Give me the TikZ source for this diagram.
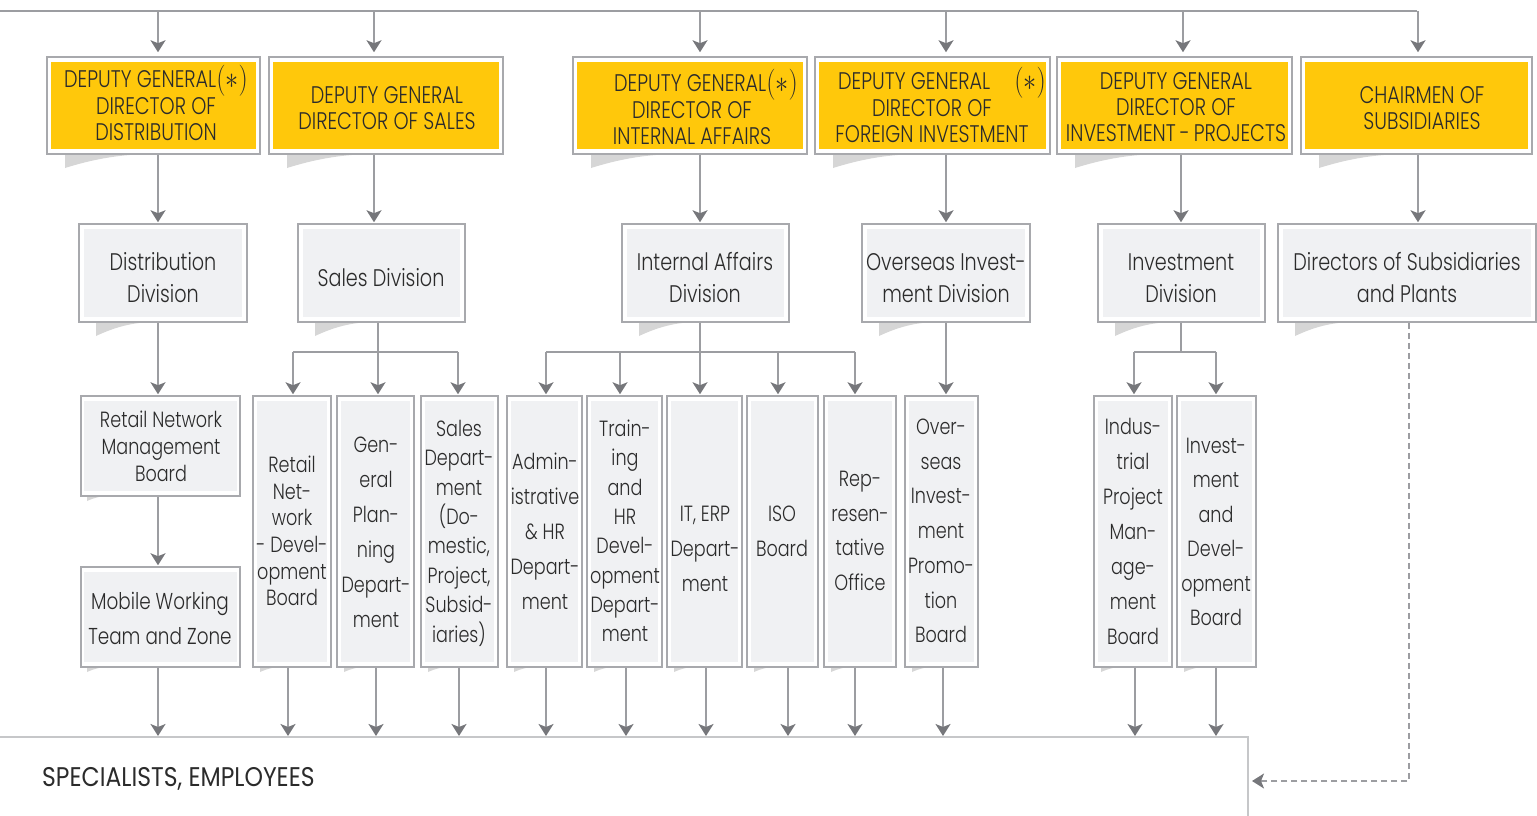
\documentclass[tikz,border=0pt]{standalone}
\usepackage{fontspec}
\newfontfamily\lightf{Poppins Light}[FakeStretch=0.8]
\newfontfamily\regf{Poppins}[FakeStretch=0.87]
\usetikzlibrary{arrows.meta,fit,calc}
\definecolor{ylw}{HTML}{FFC80B}
\definecolor{pale}{HTML}{F0F1F3}
\definecolor{brd}{HTML}{A8A9AD}
\definecolor{lncol}{HTML}{9C9DA1}
\definecolor{tipcol}{HTML}{76777B}
\definecolor{shd}{HTML}{D6D6D6}
\definecolor{txt}{HTML}{2B2B2B}
\definecolor{btm}{HTML}{C6C7C9}
\tikzset{
  frame/.style={draw=brd, line width=1.5pt, fill=white, inner sep=0pt},
  cline/.style={draw=lncol, line width=1.8pt},
  arr/.style={cline, -{Stealth[length=12pt,width=15pt,inset=3pt,color=tipcol]}},
  darr/.style={arr, dash pattern=on 6pt off 4pt},
  tA/.style={text=txt, align=center, inner sep=0pt, font=\lightf\fontsize{24}{26}\selectfont},
  tB/.style={text=txt, align=center, inner sep=0pt, font=\lightf\fontsize{24}{32}\selectfont},
  tC/.style={text=txt, align=center, inner sep=0pt, font=\lightf\fontsize{22}{#1}\selectfont},
}
\newcommand\mkbox[7]{%
  \node[frame, fit={(#2,#3)(#4,#5)}] (#1) {};
  \fill[#6] ([shift={(#7,6)}]#1.north west) rectangle ([shift={(-#7,-6)}]#1.south east);
}
\newcommand\curl[4]{%
  \fill[shd] (#1,#2) -- ++(0,#4) .. controls +({0.3*#3},{-0.6*#4}) and +({-0.4*#3},0) .. ++(#3,-#4) -- cycle;
}
\newcommand\starmark{\raisebox{-1.5pt}{\scalebox{1.05}[1.25]{$(\ast)$}}}
\begin{document}
\begin{tikzpicture}[x=1pt,y=-1pt]
\useasboundingbox (0,0) rectangle (1537,816);
% shadows
\curl{65}{154}{90}{14}
\curl{287}{154}{90}{14}
\curl{591}{154}{90}{14}
\curl{833}{154}{90}{14}
\curl{1075}{154}{90}{14}
\curl{1319}{154}{90}{14}
\curl{96}{322}{60}{14}
\curl{315}{322}{60}{14}
\curl{639}{322}{60}{14}
\curl{879}{322}{60}{14}
\curl{1115}{322}{60}{14}
\curl{1295}{322}{60}{14}
\curl{87}{496}{22}{5}
\curl{87}{667}{22}{5}
\foreach \xx in {253,337,421,507,587,667,747,824,905,1094,1177}{\curl{\xx+7}{667}{22}{5}}
% level 1
\mkbox{la}{47}{57}{260}{154}{ylw}{5}
\mkbox{lb}{269}{57}{503}{154}{ylw}{5}
\mkbox{lc}{573}{57}{807}{154}{ylw}{5}
\mkbox{ld}{815}{57}{1050}{154}{ylw}{5}
\mkbox{le}{1057}{57}{1292}{154}{ylw}{5}
\mkbox{lf}{1301}{57}{1532}{154}{ylw}{5}
\node[tA] (lat) at (156,103) {DEPUTY GENERAL\starmark\\DIRECTOR OF\\DISTRIBUTION};
\node[tA] (lbt) at (387,108) {DEPUTY GENERAL\\DIRECTOR OF SALES};
\node[tA] (lct) at (692,107) {\hspace*{28pt}DEPUTY GENERAL\starmark\\DIRECTOR OF\\INTERNAL AFFAIRS};
\node[tA] (ldt) at (932,105) {\hspace*{20pt}DEPUTY GENERAL\quad\starmark\\DIRECTOR OF\\FOREIGN INVESTMENT};
\node[tA] (let) at (1176,107) {DEPUTY GENERAL\\DIRECTOR OF\\INVESTMENT\,-\,PROJECTS};
\node[tA] (lft) at (1422,108) {CHAIRMEN OF\\SUBSIDIARIES};
% level 2
\mkbox{da}{79}{224}{247}{322}{pale}{6}
\mkbox{db}{298}{224}{465}{322}{pale}{6}
\mkbox{dc}{622}{224}{789}{322}{pale}{6}
\mkbox{dd}{862}{224}{1030}{322}{pale}{6}
\mkbox{de}{1098}{224}{1265}{322}{pale}{6}
\mkbox{df}{1278}{224}{1536}{322}{pale}{6}
\node[tB] (dat) at (163,278) {Distribution\\Division};
\node[tB] (dbt) at (381,278) {Sales Division};
\node[tB] (dct) at (705,278) {Internal Affairs\\Division};
\node[tB] (ddt) at (946,278) {Overseas Invest-\\ment Division};
\node[tB] (det) at (1181,278) {Investment\\Division};
\node[tB] (dft) at (1407,278) {Directors of Subsidiaries\\and Plants};
% level 3
\mkbox{ra}{81}{396}{240}{496}{pale}{4}
\mkbox{rb}{81}{567}{240}{667}{pale}{4}
\node[tC=27, font=\lightf\fontsize{22}{27}\selectfont] (rat) at (161,446) {Retail Network\\Management\\Board};
\node[tC=35, font=\lightf\fontsize{23}{35}\selectfont] (rbt) at (160,618) {Mobile Working\\Team and Zone};
\mkbox{ta}{253}{396}{331}{667}{pale}{5}
\mkbox{tb}{337}{396}{414}{667}{pale}{5}
\mkbox{tc}{421}{396}{498}{667}{pale}{5}
\mkbox{td}{507}{396}{582}{667}{pale}{5}
\mkbox{te}{587}{396}{662}{667}{pale}{5}
\mkbox{tf}{667}{396}{742}{667}{pale}{5}
\mkbox{tg}{747}{396}{818}{667}{pale}{5}
\mkbox{th}{824}{396}{896}{667}{pale}{5}
\mkbox{ti}{905}{396}{978}{667}{pale}{5}
\mkbox{tj}{1094}{396}{1172}{667}{pale}{5}
\mkbox{tk}{1177}{396}{1256}{667}{pale}{5}
\node[tC=26.6] (tat) at (292,531) {Retail\\Net-\\work\\- Devel-\\opment\\Board};
\node[tC=35] (tbt) at (376,532) {Gen-\\eral\\Plan-\\ning\\Depart-\\ment};
\node[tC=29.4] (tct) at (459,533) {Sales\\Depart-\\ment\\(Do-\\mestic,\\Project,\\Subsid-\\iaries)};
\node[tC=35] (tdt) at (545,531) {Admin-\\istrative\\\& HR\\Depart-\\ment};
\node[tC=29.3] (tet) at (625,531) {Train-\\ing\\and\\HR\\Devel-\\opment\\Depart-\\ment};
\node[tC=35] (tft) at (705,549) {IT, ERP\\Depart-\\ment};
\node[tC=35] (tgt) at (782,531) {ISO\\Board};
\node[tC=34.5] (tht) at (860,531) {Rep-\\resen-\\tative\\Office};
\node[tC=34.7] (tit) at (941,531) {Over-\\seas\\Invest-\\ment\\Promo-\\tion\\Board};
\node[tC=35] (tjt) at (1133,531) {Indus-\\trial\\Project\\Man-\\age-\\ment\\Board};
\node[tC=34.5] (tkt) at (1216,532) {Invest-\\ment\\and\\Devel-\\opment\\Board};
% bottom
\coordinate (bl) at (0,737);
\coordinate (br) at (1248,737);
\coordinate (bb) at (1248,816);
\draw[draw=btm, line width=1.5pt] (bl) -- (br) -- (bb);
\node[anchor=west, inner sep=0pt, text=txt, font=\regf\fontsize{27}{30}\selectfont] (emp) at (42,779) {SPECIALISTS, EMPLOYEES};
\coordinate (empR) at (1252,781);
% top line
\coordinate (topL) at (0,11);
\coordinate (topR) at (1417,11);
\draw[cline] (topL) -- (topR);
\foreach \xx/\bb in {158/la,374/lb,700/lc,946/ld,1183/le,1418/lf}{
  \draw[arr, shorten >=4pt] (\xx,0 |- topL) -- (\xx,0 |- \bb.north);
}
% level1 -> level2
\foreach \xx/\aa/\bb in {158/la/da,374/lb/db,700/lc/dc,946/ld/dd,1181/le/de,1418/lf/df}{
  \draw[arr, shorten >=1pt] (\xx,0 |- \aa.south) -- (\xx,0 |- \bb.north);
}
% column 1
\draw[arr, shorten >=1pt] (158,0 |- da.south) -- (158,0 |- ra.north);
\draw[arr, shorten >=1pt] (158,0 |- ra.south) -- (158,0 |- rb.north);
% branches
\coordinate (sb) at (378,352);
\draw[cline] (378,0 |- db.south) -- (sb);
\draw[cline] (293,352) -- (458,352);
\foreach \xx/\bb in {293/ta,378/tb,458/tc}{\draw[arr, shorten >=1pt] (\xx,352) -- (\xx,0 |- \bb.north);}
\coordinate (ib) at (700,352);
\draw[cline] (700,0 |- dc.south) -- (ib);
\draw[cline] (546,352) -- (855,352);
\foreach \xx/\bb in {546/td,620/te,700/tf,778/tg,855/th}{\draw[arr, shorten >=1pt] (\xx,352) -- (\xx,0 |- \bb.north);}
\draw[arr, shorten >=1pt] (946,0 |- dd.south) -- (946,0 |- ti.north);
\coordinate (vb) at (1181,352);
\draw[cline] (1181,0 |- de.south) -- (vb);
\draw[cline] (1134,352) -- (1216,352);
\foreach \xx/\bb in {1134/tj,1216/tk}{\draw[arr, shorten >=1pt] (\xx,352) -- (\xx,0 |- \bb.north);}
% to bottom
\foreach \xx/\bb in {158/rb,288/ta,376/tb,459/tc,546/td,626/te,706/tf,788/tg,855/th,943/ti,1135/tj,1216/tk}{
  \draw[arr, shorten >=1pt] (\xx,0 |- \bb.south) -- (\xx,0 |- bl);
}
% dashed
\draw[darr] (1409,0 |- df.south) |- (empR);
\end{tikzpicture}
\end{document}
